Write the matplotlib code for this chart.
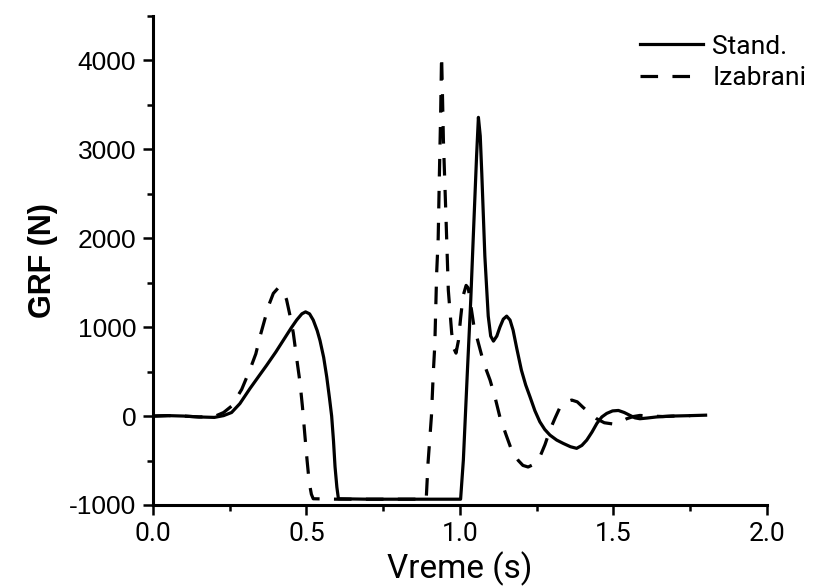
import matplotlib
matplotlib.use('Agg')
import matplotlib.pyplot as plt
from matplotlib.ticker import MultipleLocator

# Standardni skok (puna linija)
t_stand = [0.00, 0.05, 0.10, 0.15, 0.20, 0.23, 0.256, 0.283, 0.316, 0.345, 0.37, 0.40,
           0.425, 0.45, 0.468, 0.485, 0.497, 0.51, 0.522, 0.535, 0.544, 0.556, 0.566,
           0.575, 0.582, 0.588, 0.593, 0.599, 0.604, 0.70, 0.80, 0.90, 1.002, 1.011,
           1.024, 1.035, 1.043, 1.054, 1.060, 1.066, 1.071, 1.081, 1.092, 1.100, 1.109,
           1.12, 1.13, 1.141, 1.152, 1.163, 1.173, 1.185, 1.20, 1.214, 1.228, 1.244,
           1.26, 1.276, 1.293, 1.315, 1.336, 1.36, 1.38, 1.397, 1.413, 1.43, 1.446,
           1.462, 1.478, 1.497, 1.516, 1.535, 1.554, 1.57, 1.586, 1.61, 1.64, 1.69,
           1.75, 1.80]
grf_stand = [0, 5, 0, -10, -15, 5, 40, 140, 310, 450, 570, 720,
             855, 990, 1080, 1150, 1172, 1150, 1080, 960, 850, 660, 440,
             200, 0, -280, -570, -800, -930, -935, -935, -935, -935, -494,
             494, 1300, 1989, 2921, 3360, 3150, 2730, 1798, 1124, 900, 843,
             900, 1000, 1090, 1124, 1080, 966, 760, 517, 350, 217, 60,
             -64, -150, -214, -270, -307, -345, -363, -330, -270, -180, -82,
             -10, 30, 58, 63, 40, 7, -20, -30, -22, -10, 0,
             5, 10]

# Izabrani skok (isprekidana linija)
t_izabrani = [0.00, 0.05, 0.10, 0.15, 0.20, 0.23, 0.256, 0.289, 0.316, 0.335, 0.349, 0.362,
              0.376, 0.392, 0.408, 0.422, 0.435, 0.447, 0.457, 0.468, 0.479, 0.487, 0.495,
              0.502, 0.509, 0.516, 0.522, 0.60, 0.70, 0.80, 0.89, 0.896, 0.907, 0.913,
              0.918, 0.924, 0.929, 0.933, 0.937, 0.940, 0.943, 0.946, 0.955, 0.962, 0.973,
              0.980, 0.987, 0.995, 1.002, 1.010, 1.020, 1.027, 1.035, 1.045, 1.06, 1.077,
              1.098, 1.115, 1.13, 1.15, 1.168, 1.19, 1.205, 1.222, 1.242, 1.26, 1.277,
              1.293, 1.31, 1.326, 1.345, 1.364, 1.382, 1.40, 1.42, 1.445, 1.47, 1.50,
              1.52, 1.543, 1.565, 1.586, 1.62, 1.66, 1.70, 1.75]
grf_izabrani = [0, 5, 0, -10, -5, 40, 112, 300, 524, 700, 899, 1060,
                1236, 1380, 1442, 1420, 1311, 1120, 936, 650, 375, 100, -225,
                -500, -749, -880, -930, -935, -935, -935, -935, -524, 0, 483,
                800, 1607, 2000, 2730, 3400, 4056, 3600, 3100, 2170, 1416, 933,
                760, 708, 850, 1100, 1350, 1470, 1440, 1250, 1020, 820, 600,
                404, 200, -11, -210, -382, -500, -555, -573, -540, -461, -320,
                -157, -20, 101, 160, 180, 160, 101, 40, -30, -75, -90,
                -70, -30, -5, 7, 0, -5, 0, 5]

fig = plt.figure(figsize=(8.15, 5.88), dpi=100)
ax = fig.add_axes([0.1877, 0.1412, 0.7534, 0.8316])

ax.plot(t_stand, grf_stand, color='black', lw=2.3, label='Stand.')
ax.plot(t_izabrani, grf_izabrani, color='black', lw=2.3, dashes=(5.5, 4.5), label='Izabrani')

ax.set_xlim(0, 2.0)
ax.set_ylim(-1000, 4500)
ax.xaxis.set_minor_locator(MultipleLocator(0.25))
ax.yaxis.set_minor_locator(MultipleLocator(500))
ax.set_xticks([0, 0.5, 1.0, 1.5, 2.0])
ax.set_xticklabels(['0.0', '0.5', '1.0', '1.5', '2.0'], fontfamily='Roboto', fontsize=19)
ax.set_yticks([-1000, 0, 1000, 2000, 3000, 4000])
ax.set_yticklabels(['-1000', '0', '1000', '2000', '3000', '4000'],
                   fontfamily='Liberation Sans', fontsize=19)

for s in ['top', 'right']:
    ax.spines[s].set_visible(False)
for s in ['left', 'bottom']:
    ax.spines[s].set_linewidth(2.2)

ax.tick_params(which='major', direction='out', length=7, width=1.8, pad=5)
ax.tick_params(which='minor', direction='out', length=4, width=1.8)

ax.set_xlabel('Vreme (s)', fontfamily='Roboto', fontsize=24, labelpad=4)
ax.set_ylabel('GRF (N)', fontfamily='Liberation Sans', fontweight='bold', fontsize=22, labelpad=8)

ax.legend(loc='upper left', bbox_to_anchor=(0.793, 0.962), frameon=False,
          borderaxespad=0, borderpad=0, handlelength=2.4, handletextpad=0.35,
          labelspacing=0.3, prop={'family': 'Roboto', 'size': 19})

plt.savefig('out.png', dpi=100)
